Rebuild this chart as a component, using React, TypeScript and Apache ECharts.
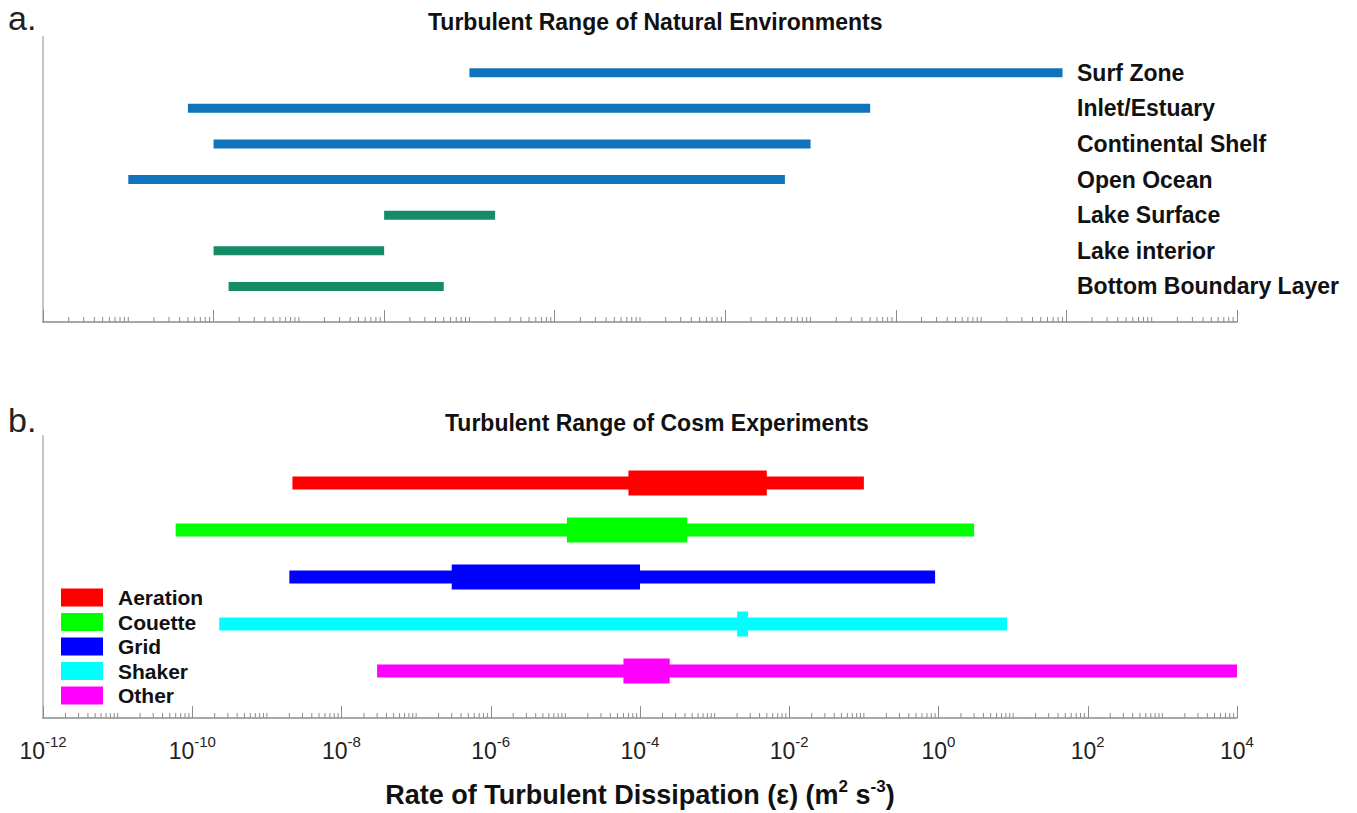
import React, { useEffect, useRef } from 'react';
import * as echarts from 'echarts';

const FONT = '"Liberation Sans", Arial, Helvetica, sans-serif';

// ---- Panel a: turbulent dissipation ranges of natural environments (m^2 s^-3)
const naturalNames = [
  'Surf Zone',
  'Inlet/Estuary',
  'Continental Shelf',
  'Open Ocean',
  'Lake Surface',
  'Lake interior',
  'Bottom Boundary Layer',
];
const naturalLow = [1e-7, 5e-11, 1e-10, 1e-11, 1e-8, 1e-10, 1.5e-10];
const naturalHigh = [0.9, 5e-3, 1e-3, 5e-4, 2e-7, 1e-8, 5e-8];
const naturalGroup = ['ocean', 'ocean', 'ocean', 'ocean', 'lake', 'lake', 'lake'];
const groupColors: Record<string, string> = { ocean: '#0f74bb', lake: '#168b67' };

// ---- Panel b: turbulent dissipation ranges of cosm experiments
const cosmNames = ['Aeration', 'Couette', 'Grid', 'Shaker', 'Other'];
const cosmColors = ['#ff0000', '#00ff00', '#0000ff', '#00ffff', '#ff00ff'];
const cosmLow = [2.2e-9, 6e-11, 2e-9, 2.3e-10, 3e-8];
const cosmHigh = [0.1, 3, 0.9, 8.3, 1e4];
const cosmCoreLow = [7e-5, 1.05e-5, 3e-7, 2e-3, 6e-5];
const cosmCoreHigh = [5e-3, 4.3e-4, 1e-4, 2.8e-3, 2.5e-4];

// Axis extents, in decades (log10 of epsilon)
const naturalDecades = [-12, 2];
const cosmDecades = [-12, 4];

const AXIS_GREY = '#8c8c8c';
const SPINE_GREY = '#c4c4c4';

// Log-style minor ticks (2..9 within each decade, plus odd decades);
// the even decades carry the axis' own long ticks.
function minorTickData(lo: number, hi: number): number[][] {
  const out: number[][] = [];
  for (let d = lo; d < hi; d++) {
    for (let k = 1; k <= 9; k++) {
      if (k === 1 && (d - lo) % 2 === 0) continue;
      out.push([d + Math.log10(k), 0]);
    }
  }
  return out;
}

function minorTickSeries(xAxisIndex: number, yAxisIndex: number, lo: number, hi: number) {
  return {
    type: 'custom',
    xAxisIndex,
    yAxisIndex,
    silent: true,
    clip: false,
    data: minorTickData(lo, hi),
    encode: { x: 0, y: 1 },
    renderItem: (_p: any, api: any) => {
      const p = api.coord([api.value(0), api.value(1)]);
      return {
        type: 'line',
        shape: { x1: p[0], y1: p[1], x2: p[0], y2: p[1] - 5 },
        style: { stroke: AXIS_GREY, lineWidth: 1 },
      };
    },
  };
}

function buildOption() {
  const nN = naturalNames.length;
  const nC = cosmNames.length;

  const naturalSeries = {
    type: 'custom',
    name: 'Natural environments',
    xAxisIndex: 0,
    yAxisIndex: 0,
    encode: { x: [0, 1], y: 2 },
    data: naturalNames.map((_, i) => [
      Math.log10(naturalLow[i]),
      Math.log10(naturalHigh[i]),
      nN - i,
    ]),
    renderItem: (params: any, api: any) => {
      const y = api.value(2);
      const a = api.coord([api.value(0), y]);
      const b = api.coord([api.value(1), y]);
      const h = 9;
      return {
        type: 'rect',
        shape: { x: a[0], y: a[1] - h / 2, width: b[0] - a[0], height: h },
        style: { fill: groupColors[naturalGroup[params.dataIndex]] },
      };
    },
  };

  const cosmSeries = cosmNames.map((name, i) => ({
    type: 'custom',
    name,
    xAxisIndex: 1,
    yAxisIndex: 2,
    itemStyle: { color: cosmColors[i] },
    encode: { x: [0, 1], y: 4 },
    data: [
      [
        Math.log10(cosmLow[i]),
        Math.log10(cosmHigh[i]),
        Math.log10(cosmCoreLow[i]),
        Math.log10(cosmCoreHigh[i]),
        nC - i,
      ],
    ],
    renderItem: (_params: any, api: any) => {
      const y = api.value(4);
      const p0 = api.coord([api.value(0), y]);
      const p1 = api.coord([api.value(1), y]);
      const c0 = api.coord([api.value(2), y]);
      const c1 = api.coord([api.value(3), y]);
      const color = api.visual('color');
      const thin = 13;
      const thick = 25;
      return {
        type: 'group',
        children: [
          {
            type: 'rect',
            shape: { x: p0[0], y: p0[1] - thin / 2, width: p1[0] - p0[0], height: thin },
            style: { fill: color },
          },
          {
            type: 'rect',
            shape: { x: c0[0], y: c0[1] - thick / 2, width: c1[0] - c0[0], height: thick },
            style: { fill: color },
          },
        ],
      };
    },
  }));

  const baseX = (lo: number, hi: number, gridIndex: number) => ({
    gridIndex,
    type: 'value',
    min: lo,
    max: hi,
    interval: 2,
    axisLine: { onZero: false, lineStyle: { color: AXIS_GREY, width: 1.5 } },
    axisTick: { inside: true, length: 12, lineStyle: { color: AXIS_GREY, width: 1 } },
    splitLine: { show: false },
    axisLabel: { show: false },
  });

  return {
    animation: false,
    backgroundColor: '#ffffff',
    title: [
      {
        text: 'Turbulent Range of Natural Environments',
        left: 428,
        top: 10,
        padding: 0,
        textStyle: { fontFamily: FONT, fontWeight: 'bold', fontSize: 23, color: '#111' },
      },
      {
        text: 'Turbulent Range of Cosm Experiments',
        left: 445,
        top: 411,
        padding: 0,
        textStyle: { fontFamily: FONT, fontWeight: 'bold', fontSize: 23, color: '#111' },
      },
    ],
    graphic: [
      {
        type: 'text',
        left: 8,
        top: 1,
        style: { text: 'a.', font: `34px ${FONT}`, fill: '#222' },
      },
      {
        type: 'text',
        left: 8,
        top: 403,
        style: { text: 'b.', font: `34px ${FONT}`, fill: '#222' },
      },
    ],
    legend: {
      data: cosmNames,
      orient: 'vertical',
      left: 61,
      top: 587,
      padding: 0,
      itemWidth: 42,
      itemHeight: 18,
      itemGap: 3.5,
      icon: 'rect',
      selectedMode: false,
      textStyle: {
        fontFamily: FONT,
        fontWeight: 'bold',
        fontSize: 21,
        lineHeight: 18,
        color: '#111',
        padding: [0, 0, 0, 10],
      },
    },
    grid: [
      { left: 43, right: 120, top: 37, height: 285 },
      { left: 43, right: 120, top: 436, height: 282 },
    ],
    xAxis: [
      baseX(naturalDecades[0], naturalDecades[1], 0),
      {
        ...baseX(cosmDecades[0], cosmDecades[1], 1),
        axisLabel: {
          show: true,
          margin: 16,
          showMinLabel: true,
          showMaxLabel: true,
          formatter: (v: number) => `{b|10}{s|${v}}`,
          rich: {
            b: { fontFamily: FONT, fontSize: 23, color: '#222', lineHeight: 28, verticalAlign: 'bottom' },
            s: { fontFamily: FONT, fontSize: 15, color: '#222', lineHeight: 12, verticalAlign: 'top' },
          },
        },
        name: '{t|Rate of Turbulent Dissipation (ε) (m}{s|2}{t| s}{s|-3}{t|)}',
        nameLocation: 'middle',
        nameGap: 60,
        nameTextStyle: {
          rich: {
            t: { fontFamily: FONT, fontWeight: 'bold', fontSize: 27, color: '#111', lineHeight: 30, verticalAlign: 'bottom' },
            s: { fontFamily: FONT, fontWeight: 'bold', fontSize: 17, color: '#111', lineHeight: 16, verticalAlign: 'top' },
          },
        },
      },
    ],
    yAxis: [
      {
        gridIndex: 0,
        type: 'value',
        min: 0,
        max: nN + 1,
        position: 'left',
        axisLine: { show: true, onZero: false, lineStyle: { color: SPINE_GREY, width: 2 } },
        axisTick: { show: false },
        axisLabel: { show: false },
        splitLine: { show: false },
      },
      {
        // environment names, set inside the plot to the right of the bars
        gridIndex: 0,
        type: 'value',
        min: 0,
        max: nN + 1,
        interval: 1,
        position: 'right',
        offset: -160,
        axisLine: { show: false, onZero: false },
        axisTick: { show: false },
        splitLine: { show: false },
        axisLabel: {
          show: true,
          margin: 0,
          fontFamily: FONT,
          fontWeight: 'bold',
          fontSize: 23,
          color: '#111',
          formatter: (v: number) => naturalNames[nN - v] ?? '',
        },
      },
      {
        gridIndex: 1,
        type: 'value',
        min: 0,
        max: nC + 1,
        position: 'left',
        axisLine: { show: true, onZero: false, lineStyle: { color: SPINE_GREY, width: 2 } },
        axisTick: { show: false },
        axisLabel: { show: false },
        splitLine: { show: false },
      },
    ],
    series: [
      minorTickSeries(0, 0, naturalDecades[0], naturalDecades[1]),
      naturalSeries,
      minorTickSeries(1, 2, cosmDecades[0], cosmDecades[1]),
      ...cosmSeries,
    ],
  };
}

export default function App() {
  const ref = useRef<HTMLDivElement>(null);

  useEffect(() => {
    if (!ref.current) return;
    const chart = echarts.init(ref.current, null, { renderer: 'svg' });
    chart.setOption(buildOption() as any);
    return () => {
      chart.dispose();
    };
  }, []);

  return (
    <div
      ref={ref}
      style={{
        position: 'fixed',
        left: 0,
        top: 0,
        width: 1357,
        height: 813,
        background: '#ffffff',
      }}
    />
  );
}
